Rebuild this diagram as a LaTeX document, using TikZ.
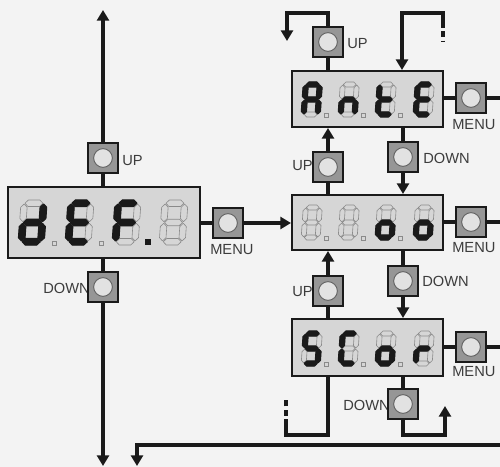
\documentclass[tikz,border=0pt]{standalone}
\usepackage{fontspec}
\setmainfont{Liberation Sans}
\usetikzlibrary{arrows.meta}
\definecolor{bg}{HTML}{F3F3F3}
\definecolor{disp}{HTML}{D6D6D6}
\definecolor{btnfill}{HTML}{969696}
\definecolor{knob}{HTML}{E2E2E2}
\definecolor{offc}{HTML}{8A8A8A}
\definecolor{ink}{HTML}{1A1A1A}
\definecolor{lab}{HTML}{3C3C3C}
\tikzset{
 wire/.style={line width=2.3pt, draw=ink},
 arr/.style={wire, -{Triangle[width=9pt,length=8pt]}},
 dispbox/.style={draw=ink, line width=1.5pt, fill=disp, inner sep=0pt},
 btn/.style={draw=ink, line width=1.3pt, fill=btnfill, minimum size=22.5pt, inner sep=0pt,
   path picture={\draw[offc!70!black, line width=0.7pt, fill=knob] (path picture bounding box.center) circle (7pt);}},
 lbl/.style={font=\fontsize{11}{12}\selectfont, text=lab, inner sep=0pt},
 offseg/.style={draw=offc, line width=0.45pt, line join=round},
 onseg/.style={fill=ink, draw=ink, line width=0.9pt, line join=round},
 dpoff/.style={draw=offc, line width=0.45pt},
 dpon/.style={fill=ink},
 dotted wire/.style={wire, dash pattern=on 4.5pt off 2.5pt},
}
% seven-segment helpers
\newcommand\HS[3]{(#1,#3) -- ({#1+\sgh},{#3+\sgh}) -- ({#2-\sgh},{#3+\sgh}) -- (#2,#3) -- ({#2-\sgh},{#3-\sgh}) -- ({#1+\sgh},{#3-\sgh}) -- cycle}
\newcommand\VS[3]{(#3,#1) -- ({#3+\sgh},{#1+\sgh}) -- ({#3+\sgh},{#2-\sgh}) -- (#3,#2) -- ({#3-\sgh},{#2-\sgh}) -- ({#3-\sgh},{#1+\sgh}) -- cycle}
\def\spa{\HS{\sgxl}{\sgxr}{\sgya}}
\def\spg{\HS{\sgxl}{\sgxr}{\sgym}}
\def\spd{\HS{\sgxl}{\sgxr}{\sgyd}}
\def\spf{\VS{\sgyfl}{\sgyfu}{\sgxf}}
\def\spb{\VS{\sgyfl}{\sgyfu}{\sgxb}}
\def\spe{\VS{\sgyel}{\sgyeu}{\sgxf}}
\def\spc{\VS{\sgyel}{\sgyeu}{\sgxb}}
\def\spnone{}
\newcommand\segdigit[6]{%
 \begin{scope}[shift={(#1,#2)},x=0.75pt,y=0.75pt,xslant=0.07]
  \pgfmathsetmacro\sgh{#5/2}
  \pgfmathsetmacro\sggp{#5*0.12}
  \pgfmathsetmacro\sgxl{\sgh+\sggp}
  \pgfmathsetmacro\sgxr{#3-\sgh-\sggp}
  \pgfmathsetmacro\sgxf{\sgh}
  \pgfmathsetmacro\sgxb{#3-\sgh}
  \pgfmathsetmacro\sgya{#4-\sgh}
  \pgfmathsetmacro\sgym{#4/2}
  \pgfmathsetmacro\sgyd{\sgh}
  \pgfmathsetmacro\sgyfu{#4-\sgh-\sggp}
  \pgfmathsetmacro\sgyfl{#4/2+\sggp}
  \pgfmathsetmacro\sgyeu{#4/2-\sggp}
  \pgfmathsetmacro\sgyel{\sgh+\sggp}
  \foreach \s in {a,b,c,d,e,f,g}{\edef\sgtmp{\noexpand\draw[offseg] \expandafter\noexpand\csname sp\s\endcsname;}\sgtmp}
  \foreach \s in {#6}{\edef\sgtmp{\noexpand\fill[onseg] \expandafter\noexpand\csname sp\s\endcsname;}\sgtmp}
 \end{scope}}
\newcommand\dpoint[4]{\path[#4] (#1,#2) rectangle ++(#3,-#3);}
\begin{document}
\begin{tikzpicture}[x=0.75pt,y=-0.75pt]
\useasboundingbox (0,0) rectangle (500,467);
\clip (0,0) rectangle (500,467);
\fill[bg] (0,0) rectangle (500,467);

% displays
\node[dispbox, minimum width=144pt, minimum height=53.25pt] (D0) at (104,222.5) {};
\node[dispbox, minimum width=113.25pt, minimum height=42pt] (D1) at (367.5,99) {};
\node[dispbox, minimum width=113.25pt, minimum height=41.25pt] (D2) at (367.5,222.5) {};
\node[dispbox, minimum width=113.25pt, minimum height=42.75pt] (D3) at (367.5,347.5) {};

% digits
\segdigit{18}{245}{26}{45}{6.5}{b,c,d,e,g}
\segdigit{65}{245}{26}{45}{6.5}{a,d,e,f,g}
\segdigit{112}{245}{26}{45}{6.5}{a,e,f,g}
\segdigit{159}{245}{26}{45}{6.5}{none}
\dpoint{52}{245}{4}{dpoff}
\dpoint{99}{245}{4}{dpoff}
\dpoint{145}{245}{6}{dpon}

\segdigit{301}{117}{19}{35}{5}{a,b,c,e,f,g}
\segdigit{338}{117}{19}{35}{5}{c,e,g}
\segdigit{375}{117}{19}{35}{5}{d,e,f,g}
\segdigit{413}{117}{19}{35}{5}{a,d,e,f,g}
\dpoint{324}{117}{4}{dpoff}
\dpoint{361}{117}{4}{dpoff}
\dpoint{398}{117}{4}{dpoff}

\segdigit{301}{240}{19}{35}{5}{none}
\segdigit{338}{240}{19}{35}{5}{none}
\segdigit{375}{240}{19}{35}{5}{c,d,e,g}
\segdigit{413}{240}{19}{35}{5}{c,d,e,g}
\dpoint{324}{240}{4}{dpoff}
\dpoint{361}{240}{4}{dpoff}
\dpoint{398}{240}{4}{dpoff}

\segdigit{301}{366}{19}{35}{5}{a,c,d,f,g}
\segdigit{338}{366}{19}{35}{5}{a,d,e,f}
\segdigit{375}{366}{19}{35}{5}{c,d,e,g}
\segdigit{413}{366}{19}{35}{5}{e,g}
\dpoint{324}{366}{4}{dpoff}
\dpoint{361}{366}{4}{dpoff}
\dpoint{398}{366}{4}{dpoff}

% labels (drawn before buttons, which cover them partly)
\node[lbl, anchor=west] (lU0) at (122,161) {UP};
\node[lbl, anchor=west] (lM0) at (210,250) {MENU};
\node[lbl, anchor=west] (lD0) at (43,288) {DOWN};
\node[lbl, anchor=west] (lU1) at (347,44) {UP};
\node[lbl, anchor=west] (lM1) at (452,125) {MENU};
\node[lbl, anchor=west] (lD1) at (423,158) {DOWN};
\node[lbl, anchor=west] (lU2) at (292,166) {UP};
\node[lbl, anchor=west] (lM2) at (452,248) {MENU};
\node[lbl, anchor=west] (lD2) at (422,281) {DOWN};
\node[lbl, anchor=west] (lU3) at (292,292) {UP};
\node[lbl, anchor=west] (lM3) at (452,372) {MENU};
\node[lbl, anchor=west] (lD3) at (343,405) {DOWN};

% buttons
\node[btn] (bU0) at (103,158) {};
\node[btn] (bM0) at (228,223) {};
\node[btn] (bD0) at (103,287) {};
\node[btn] (bU1) at (328,42) {};
\node[btn] (bM1) at (471,98) {};
\node[btn] (bD1) at (403,157) {};
\node[btn] (bU2) at (328,167) {};
\node[btn] (bM2) at (471,222) {};
\node[btn] (bD2) at (403,281) {};
\node[btn] (bU3) at (328,291) {};
\node[btn] (bM3) at (471,347) {};
\node[btn] (bD3) at (403,404) {};

% free ends
\coordinate (topend) at (103,10);
\coordinate (botend) at (103,466);
\coordinate (tl1) at (287,13);
\coordinate (tl2) at (287,41);
\coordinate (tr1) at (443,22);
\coordinate (tr2) at (443,42);
\coordinate (tx) at (402,13);
\coordinate (br1) at (445,435);
\coordinate (br2) at (445,406);
\coordinate (bl1) at (286,435);
\coordinate (bl2) at (286,425);
\coordinate (bl3) at (286,399);
\coordinate (re1) at (501,98);
\coordinate (re2) at (501,222);
\coordinate (re3) at (501,347);
\coordinate (be1) at (501,445);
\coordinate (be2) at (137,466);

% left column
\draw[arr] (bU0.north) -- (topend);
\draw[wire] (bU0 |- D0.north) -- (bU0.south);
\draw[wire] (bD0 |- D0.south) -- (bD0.north);
\draw[arr] (bD0.south) -- (botend);
\draw[wire] (D0.east |- bM0) -- (bM0.west);
\draw[arr] (bM0.east) -- (D2.west |- bM0);

% top loops
\draw[arr] (bU1.north) |- (tl1) -- (tl2);
\draw[wire] (bU1 |- D1.north) -- (bU1.south);
\draw[arr] (tr1) |- (tx) -- (tx |- D1.north);
\draw[dotted wire] (tr1) -- (tr2);

% between AntE and no
\draw[wire] (bD1 |- D1.south) -- (bD1.north);
\draw[arr] (bD1.south) -- (bD1 |- D2.north);
\draw[arr] (bU2.north) -- (bU2 |- D1.south);
\draw[wire] (bU2 |- D2.north) -- (bU2.south);

% between no and SCor
\draw[wire] (bD2 |- D2.south) -- (bD2.north);
\draw[arr] (bD2.south) -- (bD2 |- D3.north);
\draw[arr] (bU3.north) -- (bU3 |- D2.south);
\draw[wire] (bU3 |- D3.north) -- (bU3.south);

% bottom loops
\draw[wire] (bD3 |- D3.south) -- (bD3.north);
\draw[arr] (bD3.south) |- (br1) -- (br2);
\draw[wire] (bU3 |- D3.south) |- (bl1) -- (bl2);
\draw[dotted wire] (bl2) -- (bl3);

% menu exits
\draw[wire] (D1.east |- bM1) -- (bM1.west);
\draw[wire] (bM1.east) -- (re1);
\draw[wire] (D2.east |- bM2) -- (bM2.west);
\draw[wire] (bM2.east) -- (re2);
\draw[wire] (D3.east |- bM3) -- (bM3.west);
\draw[wire] (bM3.east) -- (re3);

% bottom return
\draw[arr] (be1) -| (be2);
\end{tikzpicture}
\end{document}
